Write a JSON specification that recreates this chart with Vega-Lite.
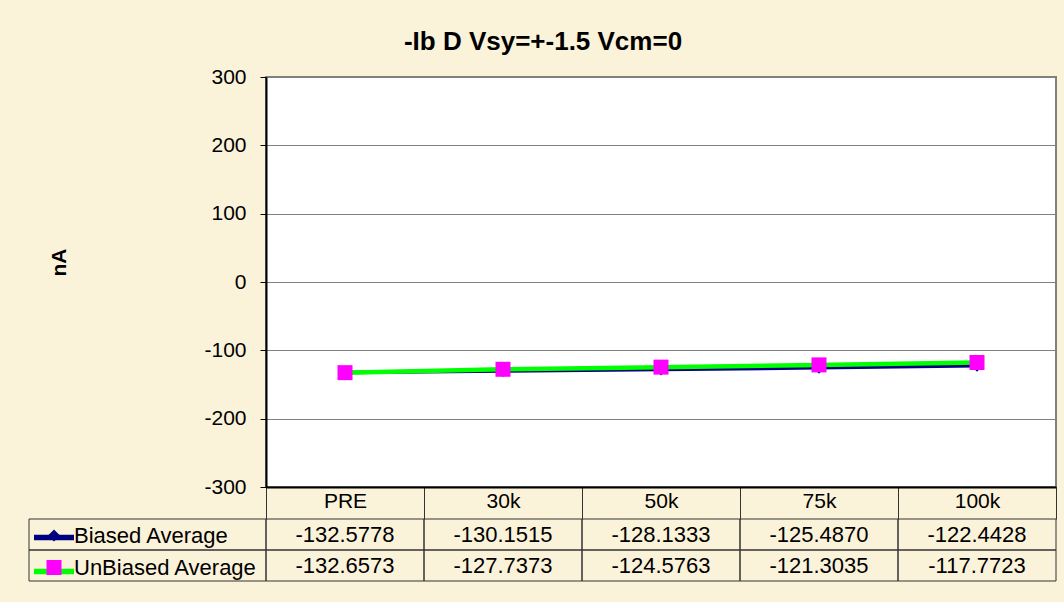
{
  "$schema": "https://vega.github.io/schema/vega-lite/v6.json",
  "background": "#FBF2DA",
  "padding": {"left": 28, "top": 29, "right": 9, "bottom": 20},
  "title": {"text": "-Ib D Vsy=+-1.5 Vcm=0", "font": "Liberation Sans", "fontSize": 26, "fontWeight": "bold", "color": "black", "anchor": "middle", "offset": 10},
  "data": {"values": [
    {"cat": "PRE", "series": "Biased Average", "value": -132.5778},
    {"cat": "30k", "series": "Biased Average", "value": -130.1515},
    {"cat": "50k", "series": "Biased Average", "value": -128.1333},
    {"cat": "75k", "series": "Biased Average", "value": -125.4870},
    {"cat": "100k", "series": "Biased Average", "value": -122.4428},
    {"cat": "PRE", "series": "UnBiased Average", "value": -132.6573},
    {"cat": "30k", "series": "UnBiased Average", "value": -127.7373},
    {"cat": "50k", "series": "UnBiased Average", "value": -124.5763},
    {"cat": "75k", "series": "UnBiased Average", "value": -121.3035},
    {"cat": "100k", "series": "UnBiased Average", "value": -117.7723}
  ]},
  "columns": 2,
  "spacing": {"row": 32, "column": 0},
  "bounds": "flush",
  "concat": [
    {
      "width": 237, "height": 410,
      "view": {"stroke": null},
      "transform": [{"filter": "datum.cat == 'PRE' && datum.series == 'Biased Average'"}],
      "mark": {"type": "text", "text": ""}
    },
    {
      "width": 790, "height": 410,
      "view": {"fill": "white", "stroke": "#808080", "strokeWidth": 2},
      "encoding": {
        "x": {"field": "cat", "type": "ordinal", "sort": ["PRE", "30k", "50k", "75k", "100k"],
          "scale": {"type": "band", "paddingInner": 0, "paddingOuter": 0},
          "axis": {"title": null, "orient": "bottom", "tickBand": "extent", "tickSize": 32, "tickColor": "#333333", "tickWidth": 1,
            "domainColor": "black", "domainWidth": 2, "labelFontSize": 21, "labelColor": "black", "labelPadding": -29, "labelAngle": 0, "grid": false}},
        "y": {"field": "value", "type": "quantitative", "scale": {"domain": [-300, 300], "nice": false},
          "axis": {"title": "nA", "titleFontSize": 21, "titleFontWeight": "bold", "titleColor": "black", "titlePadding": 134, "titleY": 185,
            "values": [-300, -200, -100, 0, 100, 200, 300], "labelFontSize": 21, "labelColor": "black", "labelPadding": 14,
            "tickSize": 6, "tickColor": "black", "domainColor": "black", "domainWidth": 2, "grid": true, "gridColor": "#808080", "gridWidth": 1}}
      },
      "layer": [
        {
          "transform": [{"filter": "datum.series == 'Biased Average'"}],
          "mark": {"type": "line", "strokeWidth": 3.5},
          "encoding": {"stroke": {"field": "series", "type": "nominal",
            "scale": {"domain": ["Biased Average", "UnBiased Average"], "range": ["#000080", "#00FF00"]},
            "legend": {"orient": "none", "legendX": 2, "legendY": 437.5, "title": null, "symbolType": "stroke", "symbolSize": 1600, "symbolStrokeWidth": 5.5,
              "labelFontSize": 22, "labelExpr": "''", "labelLimit": 400, "rowPadding": -9, "padding": 0, "labelOffset": 9}}}
        },
        {
          "transform": [{"filter": "datum.series == 'Biased Average'"}],
          "mark": {"type": "point", "filled": true, "opacity": 1, "strokeWidth": 0},
          "encoding": {
            "fill": {"field": "series", "type": "nominal", "scale": {"range": ["#000080", "#FF00FF"]},
              "legend": {"orient": "none", "legendX": 14, "legendY": 447.5, "title": null, "symbolStrokeWidth": 0, "symbolOpacity": 1,
                "labelFontSize": 22, "labelColor": "black", "labelFont": "Liberation Sans", "labelLimit": 400, "rowPadding": 10, "padding": 0, "labelOffset": 9}},
            "shape": {"field": "series", "type": "nominal", "scale": {"range": ["diamond", "square"]}},
            "size": {"field": "series", "type": "ordinal", "scale": {"range": [144, 225]}}
          }
        },
        {
          "transform": [{"filter": "datum.series == 'UnBiased Average'"}],
          "mark": {"type": "line", "strokeWidth": 4.5},
          "encoding": {"stroke": {"field": "series", "type": "nominal"}}
        },
        {
          "transform": [{"filter": "datum.series == 'UnBiased Average'"}],
          "mark": {"type": "point", "filled": true, "opacity": 1, "strokeWidth": 0},
          "encoding": {
            "fill": {"field": "series", "type": "nominal"},
            "shape": {"field": "series", "type": "nominal"},
            "size": {"field": "series", "type": "ordinal"}
          }
        }
      ]
    },
    {
      "width": 237, "height": 62,
      "view": {"stroke": null},
      "transform": [{"filter": "datum.cat == 'PRE'"}],
      "mark": {"type": "rect", "fill": "transparent", "stroke": "#333333", "strokeWidth": 1},
      "encoding": {"y": {"field": "series", "type": "nominal", "scale": {"paddingInner": 0, "paddingOuter": 0}, "axis": null}}
    },
    {
      "width": 790, "height": 62,
      "view": {"stroke": null},
      "encoding": {
        "x": {"field": "cat", "type": "ordinal", "sort": ["PRE", "30k", "50k", "75k", "100k"], "scale": {"paddingInner": 0, "paddingOuter": 0}, "axis": null},
        "y": {"field": "series", "type": "nominal", "scale": {"paddingInner": 0, "paddingOuter": 0}, "axis": null}
      },
      "layer": [
        {"mark": {"type": "rect", "fill": "transparent", "stroke": "#333333", "strokeWidth": 1}},
        {"mark": {"type": "text", "fontSize": 22, "font": "Liberation Sans", "color": "black"},
          "encoding": {"text": {"field": "value", "type": "quantitative", "format": ".4f"}}}
      ]
    }
  ],
  "config": {
    "locale": {"number": {"decimal": ".", "thousands": ",", "grouping": [3], "currency": ["$", ""], "minus": "-"}},
    "font": "Liberation Sans",
    "axis": {"labelFont": "Liberation Sans", "titleFont": "Liberation Sans"},
    "legend": {"labelFont": "Liberation Sans"},
    "view": {"stroke": null}
  }
}
